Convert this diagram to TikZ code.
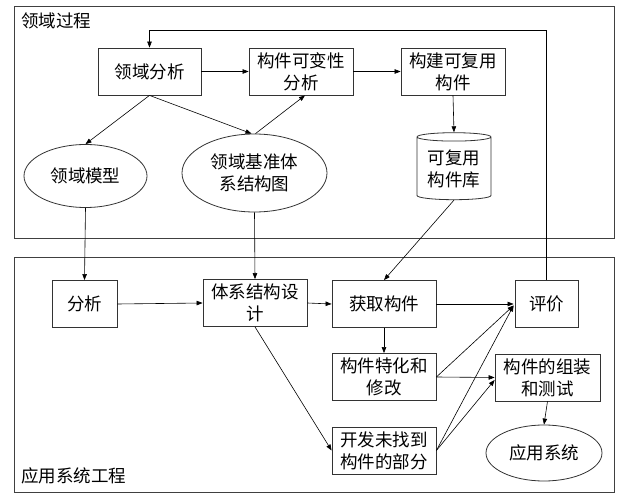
\documentclass[tikz,border=0pt]{standalone}
\usepackage{fontspec}
\setmainfont{Noto Sans CJK SC}
\usetikzlibrary{arrows.meta,shapes.geometric,calc}
\begin{document}
\begin{tikzpicture}[x=1pt,y=-1pt,
  every node/.style={font=\fontsize{17.5}{22}\selectfont, align=center, inner sep=0pt},
  frame/.style={draw=black!75, line width=1pt},
  box/.style={draw=black!80, line width=0.8pt, rectangle, minimum width=104pt, minimum height=47pt},
  ell/.style={draw=black!80, line width=0.8pt, ellipse},
  arr/.style={draw=black, line width=0.6pt, -{Triangle[length=6pt,width=4.5pt]}},
  lbl/.style={anchor=west}
]
\useasboundingbox (0,0) rectangle (633,500);
\fill[white] (0,0) rectangle (633,500);
% frames
\draw[frame] (14,7) rectangle (614,239);
\draw[frame] (14,258) rectangle (614,492);
\node[lbl] (t1) at (21,21) {领域过程};
\node[lbl] (t2) at (21,476) {应用系统工程};
% top part
\node[box, minimum width=103pt] (da) at (149.5,71.5) {领域分析};
\node[box] (cv) at (301,71.5) {构件可变性\\分析};
\node[box] (bk) at (453,71.5) {构建可复用\\构件};
\node[ell, minimum width=123pt, minimum height=63pt] (dm) at (85.5,176) {领域模型};
\node[ell, minimum width=145pt, minimum height=78pt] (ja) at (254.5,173) {领域基准体\\系结构图};
\node[draw=black!80, line width=0.8pt, cylinder, shape border rotate=90, aspect=0.16,
      minimum width=74pt, minimum height=67pt] (lib) at (454,168.5) {可复用\\构件库};
% bottom part
\node[box, minimum width=65pt] (fx) at (84.5,304) {分析};
\node[box] (tj) at (255,303) {体系结构设\\计};
\node[box] (hq) at (384,304) {获取构件};
\node[box, minimum width=63pt] (pj) at (546.5,304) {评价};
\node[box] (th) at (384,377) {构件特化和\\修改};
\node[box, minimum width=105pt] (zz) at (547.5,377.5) {构件的组装\\和测试};
\node[box] (kf) at (384,450.5) {开发未找到\\构件的部分};
\node[ell, minimum width=116pt, minimum height=56pt] (yy) at (544,453) {应用系统};
\coordinate (fb) at (548,30);
% connectors top
\draw[arr] (da.east) -- (cv.west);
\draw[arr] (cv.east) -- (bk.west);
\draw[arr] (da.south) -- (dm.north);
\draw[arr] (da.south) -- ($(ja.north)+(-3,0)$);
\draw[arr] ($(ja.north)+(1,0)$) -- ($(cv.south)+(4,0)$);
\draw[arr] (bk.south) -- (lib.north);
% between
\draw[arr] (dm.south) -- (fx.north);
\draw[arr] (ja.south) -- (tj.north);
\draw[arr] (lib.south) -- (hq.north);
\draw[arr] (pj.north) -- (pj.north |- fb) -| (da.north);
% bottom connectors
\draw[arr] (fx.east) -- (tj.west);
\draw[arr] (tj.east) -- (hq.west);
\draw[arr] (hq.east) -- ($(pj.west)+(-1,0)$);
\draw[arr] (hq.south) -- (th.north);
\draw[arr] (tj.south) -- (kf.west);
\draw[arr] (th.east) -- ($(pj.west)+(-1,1.5)$);
\draw[arr] (th.east) -- (zz.west);
\draw[arr] (kf.east) -- ($(pj.west)+(-1,1.5)$);
\draw[arr] (kf.east) -- ($(zz.west)+(0,2.5)$);
\draw[arr] (zz.south) -- (yy.north);
\end{tikzpicture}
\end{document}
